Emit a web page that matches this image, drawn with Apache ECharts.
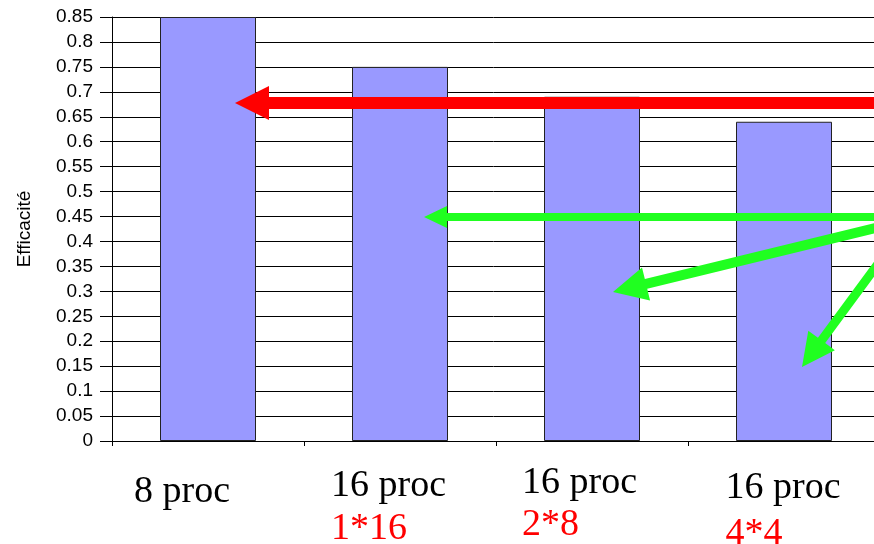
<!DOCTYPE html>
<html>
<head>
<meta charset="utf-8">
<script src="https://cdn.jsdelivr.net/npm/echarts@6/dist/echarts.min.js"></script>
<style>
  html, body { margin: 0; padding: 0; background: #fff; }
  #chart { width: 874px; height: 544px; }
</style>
</head>
<body>
<div id="chart"></div>
<script>
// Parallel efficiency per processor configuration
const categories = ['8 proc', '16 proc', '16 proc', '16 proc'];
const layouts = ['', '1*16', '2*8', '4*4'];
const efficiency = [0.85, 0.75, 0.69, 0.64];
const yTicks = { min: 0, max: 0.85, step: 0.05 };

// Per-category label tuning: horizontal shift (right padding) and line heights
const namePad = [52, 23, 25, 2];
const nameLH = [82, 70, 64, 74];
const subLH = [18, 16, 20, 18];

const rich = {};
categories.forEach((c, i) => {
  rich['n' + i] = {
    fontFamily: 'Liberation Serif, Times New Roman, serif',
    fontSize: 38, color: '#000', lineHeight: nameLH[i],
    padding: [0, namePad[i], 0, 0], align: 'left'
  };
  rich['r' + i] = {
    fontFamily: 'Liberation Serif, Times New Roman, serif',
    fontSize: 38, color: '#ff0000', lineHeight: subLH[i], align: 'left'
  };
});

// Annotation arrows: [tailX, tailY, tipX, tipY, shaftWidth, headLength, headHalfWidth, colour]
const arrows = [
  [900, 103, 235, 103, 12, 34, 17, '#ff0000'],
  [900, 217, 424, 217, 8, 23, 11, '#20ff20'],
  [900, 222, 613, 292, 10, 34, 17, '#20ff20'],
  [900, 234, 802, 367, 9, 33, 16.5, '#20ff20']
];

function arrowPoints(a) {
  const [x0, y0, x1, y1, w, hl, hw] = a;
  const dx = x1 - x0, dy = y1 - y0;
  const len = Math.hypot(dx, dy);
  const ux = dx / len, uy = dy / len;
  const nx = -uy, ny = ux;
  const bx = x1 - ux * hl, by = y1 - uy * hl;
  const h = w / 2;
  return [
    [x0 + nx * h, y0 + ny * h],
    [bx + nx * h, by + ny * h],
    [bx + nx * hw, by + ny * hw],
    [x1, y1],
    [bx - nx * hw, by - ny * hw],
    [bx - nx * h, by - ny * h],
    [x0 - nx * h, y0 - ny * h]
  ];
}

const chart = echarts.init(document.getElementById('chart'), null, { renderer: 'canvas' });

chart.setOption({
  animation: false,
  backgroundColor: '#fff',
  grid: { left: 112, right: -6, top: 17, bottom: 103, containLabel: false, outerBoundsMode: 'none' },
  xAxis: {
    type: 'category',
    data: categories,
    axisLine: { lineStyle: { color: '#000', width: 1 } },
    axisTick: { show: true, length: 5, lineStyle: { color: '#000' } },
    axisLabel: {
      interval: 0,
      margin: 10,
      formatter: (v, i) => '{n' + i + '|' + v + '}' + (layouts[i] ? '\n{r' + i + '|' + layouts[i] + '}' : ''),
      rich: rich
    }
  },
  yAxis: {
    type: 'value',
    min: yTicks.min,
    max: yTicks.max,
    interval: yTicks.step,
    name: 'Efficacité',
    nameLocation: 'middle',
    nameGap: 78,
    nameTextStyle: { fontFamily: 'Liberation Sans, Arial, sans-serif', fontSize: 19, color: '#000' },
    axisLine: { show: true, lineStyle: { color: '#000', width: 1 } },
    axisTick: { show: true, length: 12, lineStyle: { color: '#000' } },
    axisLabel: {
      margin: 19,
      fontFamily: 'Liberation Sans, Arial, sans-serif',
      fontSize: 19,
      color: '#000'
    },
    splitLine: { show: true, lineStyle: { color: '#000', width: 1 } }
  },
  series: [{
    type: 'bar',
    data: efficiency,
    barWidth: '50%',
    itemStyle: { color: '#9999ff', borderColor: '#222', borderWidth: 1 }
  }],
  graphic: arrows.map(a => ({
    type: 'polygon',
    z: 100,
    shape: { points: arrowPoints(a) },
    style: { fill: a[7] }
  }))
});
</script>
</body>
</html>
